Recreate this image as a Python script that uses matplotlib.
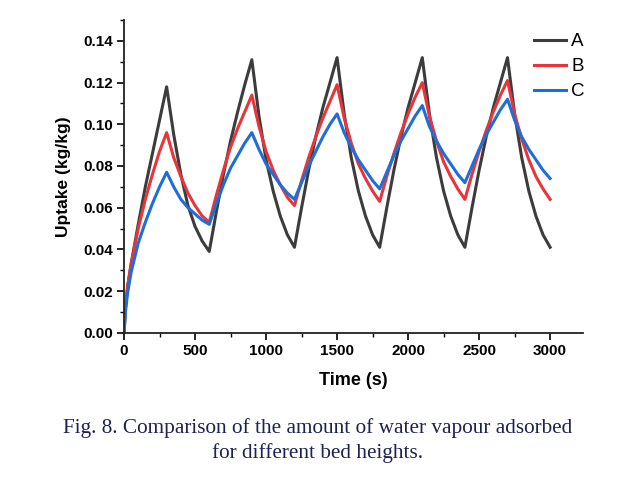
import matplotlib.pyplot as plt
from matplotlib.ticker import MultipleLocator

# time (s) and uptake values
t = [0, 10, 25, 50, 100, 150, 200, 250, 300, 350, 400, 450, 500, 550, 600,
     650, 700, 750, 800, 850, 900, 950, 1000, 1050, 1100, 1150, 1200,
     1250, 1300, 1350, 1400, 1450, 1500, 1550, 1600, 1650, 1700, 1750, 1800,
     1850, 1900, 1950, 2000, 2050, 2100, 2150, 2200, 2250, 2300, 2350, 2400,
     2450, 2500, 2550, 2600, 2650, 2700, 2750, 2800, 2850, 2900, 2950, 3000]

A = [0.0, 0.012, 0.022, 0.033, 0.052, 0.070, 0.086, 0.102, 0.118,
     0.095, 0.076, 0.061, 0.051, 0.044, 0.039,
     0.058, 0.076, 0.092, 0.106, 0.119, 0.131,
     0.104, 0.083, 0.068, 0.056, 0.047, 0.041,
     0.060, 0.078, 0.094, 0.108, 0.120, 0.132,
     0.105, 0.084, 0.068, 0.056, 0.047, 0.041,
     0.060, 0.078, 0.094, 0.108, 0.120, 0.132,
     0.105, 0.084, 0.068, 0.056, 0.047, 0.041,
     0.060, 0.078, 0.094, 0.108, 0.120, 0.132,
     0.105, 0.084, 0.068, 0.056, 0.047, 0.041]

B = [0.0, 0.012, 0.022, 0.033, 0.050, 0.064, 0.076, 0.087, 0.096,
     0.084, 0.075, 0.067, 0.061, 0.056, 0.053,
     0.066, 0.078, 0.089, 0.098, 0.106, 0.114,
     0.099, 0.087, 0.078, 0.071, 0.065, 0.061,
     0.073, 0.084, 0.094, 0.103, 0.111, 0.119,
     0.103, 0.091, 0.081, 0.074, 0.068, 0.063,
     0.075, 0.086, 0.096, 0.105, 0.113, 0.120,
     0.104, 0.092, 0.082, 0.075, 0.069, 0.064,
     0.076, 0.087, 0.097, 0.106, 0.114, 0.121,
     0.105, 0.093, 0.083, 0.075, 0.069, 0.064]

C = [0.0, 0.010, 0.019, 0.029, 0.043, 0.053, 0.062, 0.070, 0.077,
     0.070, 0.064, 0.060, 0.057, 0.054, 0.052,
     0.062, 0.071, 0.079, 0.085, 0.091, 0.096,
     0.088, 0.081, 0.076, 0.071, 0.067, 0.064,
     0.072, 0.080, 0.087, 0.094, 0.100, 0.105,
     0.096, 0.089, 0.083, 0.078, 0.073, 0.069,
     0.077, 0.085, 0.092, 0.098, 0.104, 0.109,
     0.099, 0.092, 0.086, 0.081, 0.076, 0.072,
     0.080, 0.088, 0.095, 0.101, 0.107, 0.112,
     0.102, 0.094, 0.088, 0.083, 0.078, 0.074]

plt.rcParams['font.family'] = ['Liberation Sans', 'DejaVu Sans']

fig = plt.figure(figsize=(6.28, 4.79), dpi=100)
ax = fig.add_axes([0.1975, 0.3054, 0.7305, 0.6526])

ax.plot(t, A, color='#3c3c3c', lw=2.2, label='A')
ax.plot(t, B, color='#e8353a', lw=2.2, label='B')
ax.plot(t, C, color='#1f6ed8', lw=2.2, label='C')

ax.set_xlim(0, 3230)
ax.set_ylim(0, 0.15)
ax.xaxis.set_major_locator(MultipleLocator(500))
ax.xaxis.set_minor_locator(MultipleLocator(250))
ax.yaxis.set_minor_locator(MultipleLocator(0.01))
ax.set_yticks([0, 0.02, 0.04, 0.06, 0.08, 0.10, 0.12, 0.14])
ax.set_yticklabels(['0.00', '0.02', '0.04', '0.06', '0.08', '0.10', '0.12', '0.14'])

for s in ['top', 'right']:
    ax.spines[s].set_visible(False)
for s in ['left', 'bottom']:
    ax.spines[s].set_linewidth(1.3)
    ax.spines[s].set_color('#222222')

ax.tick_params(which='major', direction='out', length=5, width=1.2, labelsize=11, pad=3)
ax.tick_params(which='minor', direction='out', length=3, width=1)
for lab in ax.get_xticklabels() + ax.get_yticklabels():
    lab.set_fontweight('bold')

ax.set_xlabel('Time (s)', fontsize=13, fontweight='bold', labelpad=10)
ax.set_ylabel('Uptake (kg/kg)', fontsize=12.5, fontweight='bold', labelpad=9)

ax.legend(loc='upper right', bbox_to_anchor=(0.958, 0.966), bbox_transform=fig.transFigure,
          frameon=False, fontsize=13.5, handlelength=1.7, handletextpad=0.3,
          labelspacing=0.42)

fig.text(0.506, 0.08, 'Fig. 8. Comparison of the amount of water vapour adsorbed\nfor different bed heights.',
         ha='center', va='center', fontsize=15.3, family='Liberation Serif',
         color='#1e2152', linespacing=1.3)

fig.savefig('out.png', dpi=100)
